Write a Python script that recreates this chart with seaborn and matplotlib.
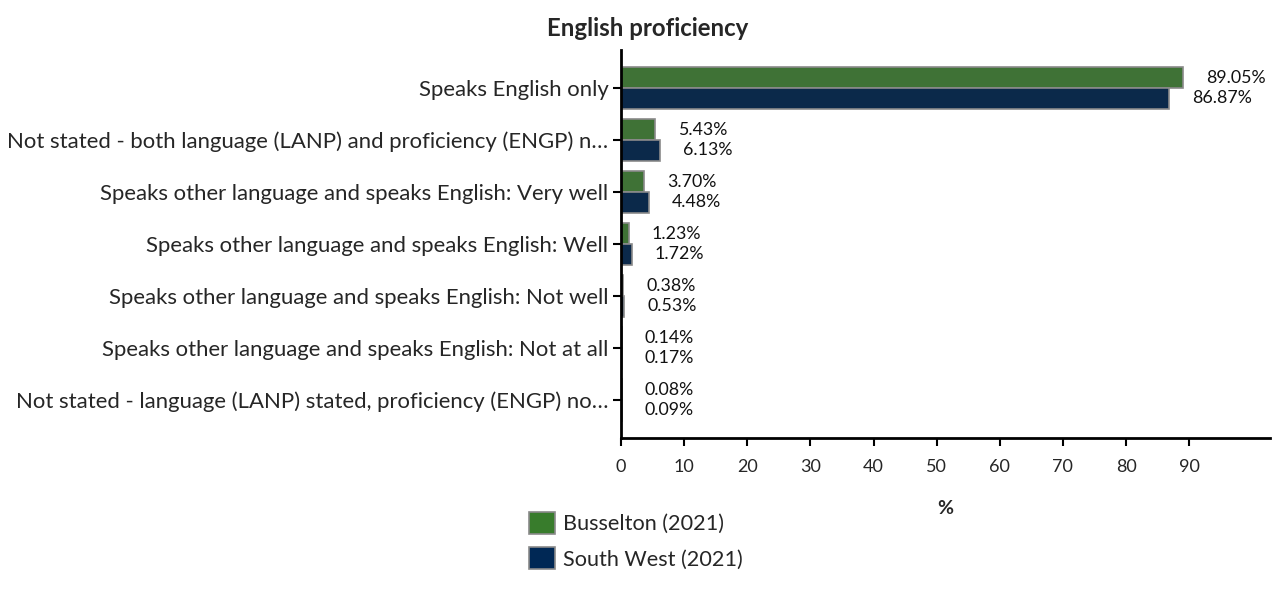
import matplotlib
matplotlib.use("Agg")
import matplotlib.pyplot as plt
import seaborn as sns
import pandas as pd
from matplotlib.patches import Patch

categories = [
    "Speaks English only",
    "Not stated - both language (LANP) and proficiency (ENGP) n\u2026",
    "Speaks other language and speaks English: Very well",
    "Speaks other language and speaks English: Well",
    "Speaks other language and speaks English: Not well",
    "Speaks other language and speaks English: Not at all",
    "Not stated - language (LANP) stated, proficiency (ENGP) no\u2026",
]
busselton = [89.05, 5.43, 3.70, 1.23, 0.38, 0.14, 0.08]
south_west = [86.87, 6.13, 4.48, 1.72, 0.53, 0.17, 0.09]
series_names = ["Busselton (2021)", "South West (2021)"]
x_ticks = [0, 10, 20, 30, 40, 50, 60, 70, 80, 90]

colors = ["#387C2C", "#002855"]

df = pd.DataFrame({
    "category": categories * 2,
    "value": busselton + south_west,
    "series": [series_names[0]] * len(categories) + [series_names[1]] * len(categories),
})

sns.set_theme(style="white")
plt.rcParams["font.family"] = ["Lato", "DejaVu Sans"]

fig = plt.figure(figsize=(12.74, 6.09), dpi=100)
ax = fig.add_axes([621 / 1274, 1 - 438 / 609, (1270 - 621) / 1274, (438 - 50) / 609])

sns.barplot(data=df, y="category", x="value", hue="series", order=categories,
            hue_order=series_names, palette=colors, orient="h", width=0.8,
            edgecolor="#8a8a8a", linewidth=1.2, ax=ax, legend=False)

ax.set_xlim(0, 102.8)
ax.set_ylim(len(categories) - 1 + 0.73, -0.73)
ax.set_xticks(x_ticks)
ax.set_xticklabels([str(t) for t in x_ticks], fontsize=13)
ax.tick_params(axis="y", labelsize=15.9, length=6, width=1.5, color="black", left=True, pad=3)
ax.tick_params(axis="x", length=6, width=1.5, color="black", bottom=True, pad=9)
ax.set_ylabel("")
ax.set_xlabel("%", fontsize=14, fontweight="bold", labelpad=18)
for s in ["top", "right"]:
    ax.spines[s].set_visible(False)
for s in ["left", "bottom"]:
    ax.spines[s].set_color("black")
    ax.spines[s].set_linewidth(2)

for cont in ax.containers:
    for bar in cont:
        w = bar.get_width()
        yc = bar.get_y() + bar.get_height() / 2
        ax.annotate(f"{w:.2f}%", xy=(w, yc), xytext=(16.5, 0), textcoords="offset points",
                    ha="left", va="center", fontsize=12.8, color="#111111")

fig.text(648 / 1274, 1 - 28 / 609, "English proficiency", ha="center", va="center",
         fontsize=17.3, fontweight="bold")

handles = [Patch(facecolor=c, edgecolor="#8a8a8a", linewidth=1.2) for c in colors]
fig.legend(handles, series_names, loc="upper left", bbox_to_anchor=(520 / 1274, 1 - 503 / 609),
           frameon=False, fontsize=15.6, handlelength=1.2, handleheight=1.2,
           handletextpad=0.4, labelspacing=0.6, borderaxespad=0)

fig.savefig("out.png", dpi=100)
